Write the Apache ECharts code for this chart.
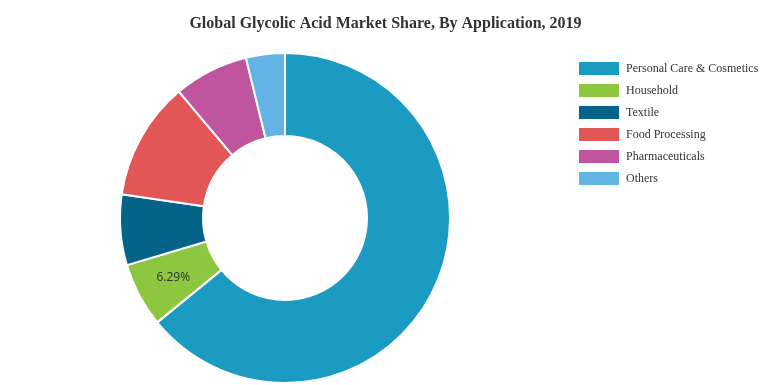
<!DOCTYPE html>
<html>
<head>
<meta charset="utf-8">
<script src="https://cdn.jsdelivr.net/npm/echarts@6/dist/echarts.min.js"></script>
<style>html,body{margin:0;padding:0;background:#fff;}#c{width:771px;height:385px;}</style>
</head>
<body>
<div id="c"></div>
<script>
const categories = ["Personal Care & Cosmetics", "Household", "Textile", "Food Processing", "Pharmaceuticals", "Others"];
const values = [64.1, 6.29, 6.9, 11.6, 7.3, 3.81];
const colors = ["#1b9ac2", "#8dc63f", "#056389", "#e35656", "#bf559e", "#63b4e5"];
const labelled = ["Household"];

const chart = echarts.init(document.getElementById('c'));
chart.setOption({
  animation: false,
  title: {
    text: 'Global Glycolic Acid Market Share, By Application, 2019',
    left: 'center', top: 11,
    textStyle: {fontFamily: 'Liberation Serif', fontSize: 16, fontWeight: 'bold', color: '#333'}
  },
  legend: {
    orient: 'vertical', left: 574, top: 57,
    itemWidth: 40, itemHeight: 13, itemGap: 9,
    icon: 'rect',
    itemStyle: {borderWidth: 0},
    textStyle: {fontFamily: 'Liberation Serif', fontSize: 12, color: '#333', padding: [0, 0, 0, 2]},
    data: categories
  },
  series: [{
    type: 'pie',
    center: [285, 218],
    radius: [82, 165],
    startAngle: 90,
    clockwise: true,
    itemStyle: {borderColor: '#fff', borderWidth: 2},
    label: {show: false},
    labelLine: {show: false},
    data: categories.map((c, i) => ({
      name: c, value: values[i],
      itemStyle: {color: colors[i]},
      label: labelled.includes(c) ? {
        show: true, position: 'inside', formatter: values[i].toFixed(2) + '%',
        fontFamily: 'Open Sans', fontSize: 12, color: '#333'
      } : {show: false}
    }))
  }]
});
</script>
</body>
</html>
